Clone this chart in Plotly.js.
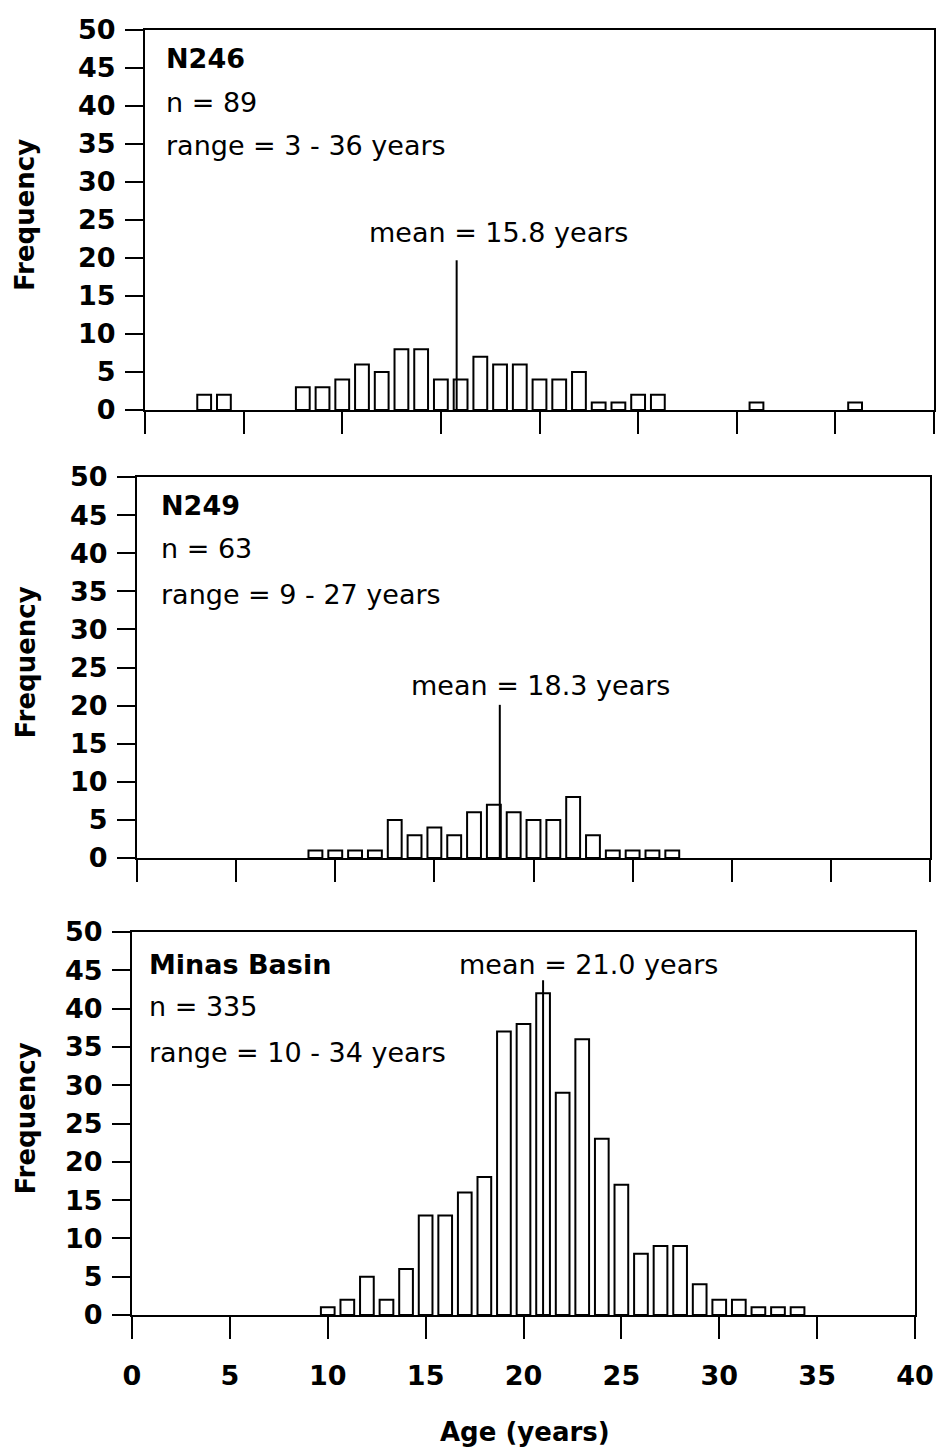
<!DOCTYPE html>
<html><head><meta charset="utf-8">
<script src="https://cdn.plot.ly/plotly-3.0.1.min.js"></script>
<style>html,body{margin:0;padding:0;background:#fff;overflow:hidden}</style>
</head><body><div id="chart" style="width:939px;height:1452px"></div>
<script>
// ---- data ----
const agesN246 = [3, 4, 8, 9, 10, 11, 12, 13, 14, 15, 16, 17, 18, 19, 20, 21, 22, 23, 24, 25, 26, 31, 36];
const freqN246 = [2, 2, 3, 3, 4, 6, 5, 8, 8, 4, 4, 7, 6, 6, 4, 4, 5, 1, 1, 2, 2, 1, 1];
const agesN249 = [9, 10, 11, 12, 13, 14, 15, 16, 17, 18, 19, 20, 21, 22, 23, 24, 25, 26, 27];
const freqN249 = [1, 1, 1, 1, 5, 3, 4, 3, 6, 7, 6, 5, 5, 8, 3, 1, 1, 1, 1];
const agesMinas = [10, 11, 12, 13, 14, 15, 16, 17, 18, 19, 20, 21, 22, 23, 24, 25, 26, 27, 28, 29, 30, 31, 32, 33, 34];
const freqMinas = [1, 2, 5, 2, 6, 13, 13, 16, 18, 37, 38, 42, 29, 36, 23, 17, 8, 9, 9, 4, 2, 2, 1, 1, 1];
const sampleNames = ["N246", "N249", "Minas Basin"];
const sampleN = [89, 63, 335];
const sampleRange = ["3 - 36", "9 - 27", "10 - 34"];
const sampleMean = [15.8, 18.3, 21.0];
const xTicks = [0, 5, 10, 15, 20, 25, 30, 35, 40];
const yTicks = [0, 5, 10, 15, 20, 25, 30, 35, 40, 45, 50];

const W = 939, H = 1452;
const FONT = "DejaVu Sans";
const FS = 27;

// panel pixel boxes [left, right, top(y=50), bottom(y=0)]
const boxes = [[145, 934, 30, 410], [137, 930, 477, 858], [132, 915, 932, 1315]];
const ages = [agesN246, agesN249, agesMinas];
const freqs = [freqN246, freqN249, freqMinas];

const traces = [];
const layout = {
  width: W, height: H, margin: {l: 0, r: 0, t: 0, b: 0},
  paper_bgcolor: "#fff", plot_bgcolor: "#fff", showlegend: false,
  bargap: 0.3, annotations: [], shapes: [],
  font: {family: FONT, size: FS, color: "#000"}
};

for (let i = 0; i < 3; i++) {
  const b = boxes[i];
  const sfx = i === 0 ? "" : String(i + 1);
  const xa = "x" + sfx, ya = "y" + sfx;
  traces.push({
    type: "bar", x: ages[i], y: freqs[i], xaxis: xa, yaxis: ya, width: 0.7,
    marker: {color: "#fff", line: {color: "#000", width: 2}}, hoverinfo: "x+y"
  });
  const last = i === 2;
  layout["xaxis" + sfx] = {
    domain: [b[0] / W, b[1] / W], anchor: ya, range: [0, 40],
    tickvals: xTicks, ticktext: xTicks.map(String), showticklabels: last,
    ticks: "outside", ticklen: 22, tickwidth: 2, tickcolor: "#000",
    showline: true, linewidth: 2, linecolor: "#000", mirror: true,
    showgrid: false, zeroline: false, ticklabelstandoff: 14, ticklabeloverflow: "allow",
    tickfont: {family: FONT, size: FS, weight: "bold", color: "#000"}
  };
  layout["yaxis" + sfx] = {
    domain: [1 - b[3] / H, 1 - b[2] / H], anchor: xa, range: [0, 50],
    tickvals: yTicks, ticktext: yTicks.map(String),
    ticks: "outside", ticklen: 18, tickwidth: 2, tickcolor: "#000",
    showline: true, linewidth: 2, linecolor: "#000", mirror: true,
    showgrid: false, zeroline: false, ticklabelstandoff: 4,
    tickfont: {family: FONT, size: FS, weight: "bold", color: "#000"}
  };
  // y axis title
  layout.annotations.push({
    xref: "paper", yref: "paper", x: 25 / W, y: 1 - ((b[2] + b[3]) / 2 - 5) / H,
    text: "<b>Frequency</b>", textangle: -90, showarrow: false,
    xanchor: "center", yanchor: "middle", font: {family: FONT, size: 26, color: "#000"}
  });
}

// sample labels
const labelX = [0.95, 1.1, 0.75];
const labelY = [[46.3, 40.4, 34.8], [46.2, 40.6, 34.6], [45.7, 40.3, 34.3]];
for (let i = 0; i < 3; i++) {
  const sfx = i === 0 ? "" : String(i + 1);
  const lines = ["<b>" + sampleNames[i] + "</b>", "n = " + sampleN[i], "range = " + sampleRange[i] + " years"];
  lines.forEach((t, k) => layout.annotations.push({
    xref: "x" + sfx, yref: "y" + sfx, x: labelX[i], y: labelY[i][k], text: t,
    showarrow: false, xanchor: "left", yanchor: "middle", font: {family: FONT, size: FS, color: "#000"}
  }));
}

// mean labels and lines
const meanTextX = [17.9, 20.35, 23.3];
const meanTextY = [23.3, 22.6, 45.7];
const meanLineTop = [19.7, 20.1, 43.7];
for (let i = 0; i < 3; i++) {
  const sfx = i === 0 ? "" : String(i + 1);
  layout.annotations.push({
    xref: "x" + sfx, yref: "y" + sfx, x: meanTextX[i], y: meanTextY[i],
    text: "mean = " + sampleMean[i].toFixed(1) + " years", showarrow: false,
    xanchor: "center", yanchor: "middle", font: {family: FONT, size: FS, color: "#000"}
  });
  layout.shapes.push({
    type: "line", xref: "x" + sfx, yref: "y" + sfx, x0: sampleMean[i], x1: sampleMean[i],
    y0: 0, y1: meanLineTop[i], line: {color: "#000", width: 2}
  });
}

// x axis title
layout.annotations.push({
  xref: "paper", yref: "paper", x: 525 / W, y: 1 - 1432 / H, text: "<b>Age (years)</b>",
  showarrow: false, xanchor: "center", yanchor: "middle", font: {family: FONT, size: 26, color: "#000"}
});

Plotly.newPlot("chart", traces, layout, {staticPlot: true, displayModeBar: false});
</script></body></html>
